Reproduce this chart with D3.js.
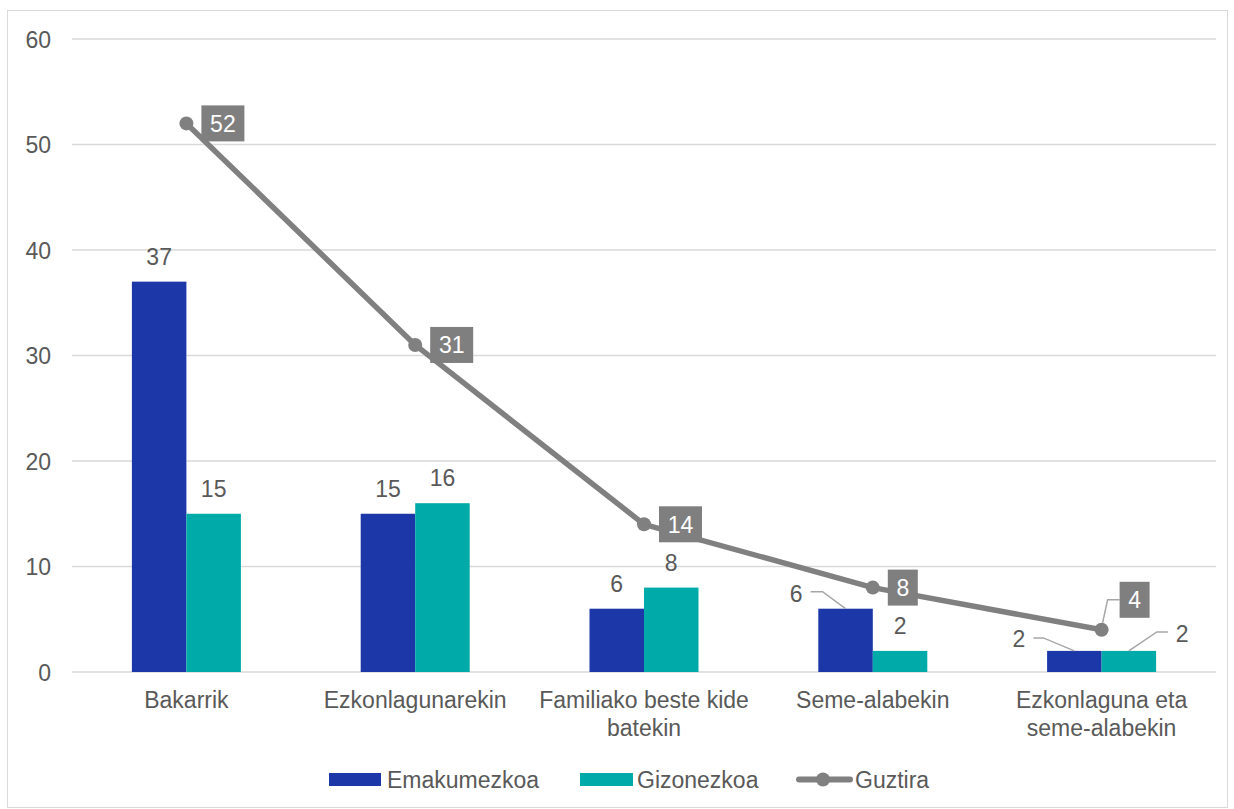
<!DOCTYPE html>
<html><head><meta charset="utf-8">
<script src="https://cdn.jsdelivr.net/npm/d3@7"></script>
<style>body{margin:0;background:#fff;}svg{font-family:"Liberation Sans",Arial,sans-serif;}</style>
</head><body><svg id="c" width="1234" height="809"></svg>
<script>
const categories = [["Bakarrik"],["Ezkonlagunarekin"],["Familiako beste kide","batekin"],["Seme-alabekin"],["Ezkonlaguna eta","seme-alabekin"]];
const emakumezkoa = [37, 15, 6, 6, 2];
const gizonezkoa = [15, 16, 8, 2, 2];
const guztira = [52, 31, 14, 8, 4];
const yTicks = [0, 10, 20, 30, 40, 50, 60];
const seriesNames = ["Emakumezkoa", "Gizonezkoa", "Guztira"];

(function () {
const svg = d3.select("#c");
const W = 1234, H = 809;
const pLeft = 72, pRight = 1216, pTop = 39, pBottom = 672;
const colBlue = "#1b37a8", colTeal = "#00aaa9", colGray = "#808080", txt = "#595959", grid = "#d9d9d9", lead = "#a6a6a6";
const FS = 23;

svg.append("rect").attr("x", 7.5).attr("y", 10.5).attr("width", W - 14).attr("height", H - 12).attr("fill", "#fff").attr("stroke", grid);

const x = d3.scaleBand().domain(d3.range(categories.length)).range([pLeft, pRight]);
const y = d3.scaleLinear().domain([0, 60]).range([pBottom, pTop]);
const barW = 54.5;

svg.append("g").selectAll("line").data(yTicks).join("line")
  .attr("x1", pLeft).attr("x2", pRight).attr("y1", d => y(d)).attr("y2", d => y(d))
  .attr("stroke", grid).attr("stroke-width", 1.5);

const yAxis = d3.axisLeft(y).tickValues(yTicks).tickSize(0).tickPadding(0);
const ga = svg.append("g").attr("transform", `translate(51,0)`).call(yAxis);
ga.attr("font-size", null).attr("font-family", null);
ga.select(".domain").remove();
ga.selectAll("text").attr("font-size", FS).attr("fill", txt).attr("dy", "0.36em");

const cx = i => x(i) + x.bandwidth() / 2;
svg.append("g").selectAll("rect").data(emakumezkoa).join("rect")
  .attr("x", (d, i) => cx(i) - barW).attr("y", d => y(d)).attr("width", barW).attr("height", d => y(0) - y(d)).attr("fill", colBlue);
svg.append("g").selectAll("rect").data(gizonezkoa).join("rect")
  .attr("x", (d, i) => cx(i)).attr("y", d => y(d)).attr("width", barW).attr("height", d => y(0) - y(d)).attr("fill", colTeal);

function leader(g, pts) {
  g.append("polyline").attr("points", pts.map(p => p.join(",")).join(" ")).attr("fill", "none").attr("stroke", lead).attr("stroke-width", 1.5);
}
function barLabel(v, bx, i, series) {
  const g = svg.append("g");
  const t = y(v);
  const T = (xx, yy, anchor) => g.append("text").attr("x", xx).attr("y", yy).attr("text-anchor", anchor).attr("font-size", FS).attr("fill", txt).text(v);
  if (series === 0 && i === 3) {
    leader(g, [[bx - 35, t - 17], [bx - 23, t - 17], [bx, t]]);
    T(bx - 43, t - 7, "end");
  } else if (series === 0 && i === 4) {
    leader(g, [[bx - 41, t - 13], [bx - 31, t - 13], [bx, t]]);
    T(bx - 49, t - 4, "end");
  } else if (series === 1 && i === 4) {
    leader(g, [[bx + 39, t - 19], [bx + 28, t - 19], [bx, t]]);
    T(bx + 47, t - 9, "start");
  } else {
    T(bx, t - 17, "middle");
  }
}
emakumezkoa.forEach((v, i) => barLabel(v, cx(i) - barW / 2, i, 0));
gizonezkoa.forEach((v, i) => barLabel(v, cx(i) + barW / 2, i, 1));

const line = d3.line().x((d, i) => cx(i)).y(d => y(d));
svg.append("path").datum(guztira).attr("d", line).attr("fill", "none").attr("stroke", colGray).attr("stroke-width", 5.5).attr("stroke-linejoin", "round");
svg.append("g").selectAll("circle").data(guztira).join("circle")
  .attr("cx", (d, i) => cx(i)).attr("cy", d => y(d)).attr("r", 7).attr("fill", colGray);

guztira.forEach((v, i) => {
  const px = cx(i), py = y(v);
  const bw = String(v).length > 1 ? 43 : 30, bh = 36;
  let bx = px + 15, by = py - bh / 2;
  if (i === 4) {
    bx = px + 18; by = py - 30 - bh / 2;
    leader(svg, [[bx, by + bh / 2], [px + 6, by + bh / 2], [px + 1, py - 7]]);
  }
  svg.append("rect").attr("x", bx).attr("y", by).attr("width", bw).attr("height", bh).attr("fill", "#7f7f7f");
  svg.append("text").attr("x", bx + bw / 2).attr("y", by + bh / 2).attr("dy", "0.36em").attr("text-anchor", "middle")
    .attr("font-size", FS).attr("fill", "#fff").text(v);
});

categories.forEach((lines, i) => {
  const t = svg.append("text").attr("text-anchor", "middle").attr("font-size", FS).attr("fill", txt);
  lines.forEach((l, k) => t.append("tspan").attr("x", cx(i)).attr("y", 708 + k * 28).text(l));
});

const lg = svg.append("g");
const ly = 779.5;
lg.append("rect").attr("x", 329).attr("y", ly - 6.5).attr("width", 52).attr("height", 13).attr("fill", colBlue);
lg.append("text").attr("x", 387).attr("y", ly).attr("dy", "0.36em").attr("font-size", FS).attr("fill", txt).text(seriesNames[0]);
lg.append("rect").attr("x", 580).attr("y", ly - 6.5).attr("width", 53).attr("height", 13).attr("fill", colTeal);
lg.append("text").attr("x", 637).attr("y", ly).attr("dy", "0.36em").attr("font-size", FS).attr("fill", txt).text(seriesNames[1]);
lg.append("line").attr("x1", 799).attr("x2", 850).attr("y1", ly).attr("y2", ly).attr("stroke", colGray).attr("stroke-width", 6).attr("stroke-linecap", "round");
lg.append("circle").attr("cx", 823).attr("cy", ly).attr("r", 7).attr("fill", colGray);
lg.append("text").attr("x", 855).attr("y", ly).attr("dy", "0.36em").attr("font-size", FS).attr("fill", txt).text(seriesNames[2]);
})();
</script></body></html>
